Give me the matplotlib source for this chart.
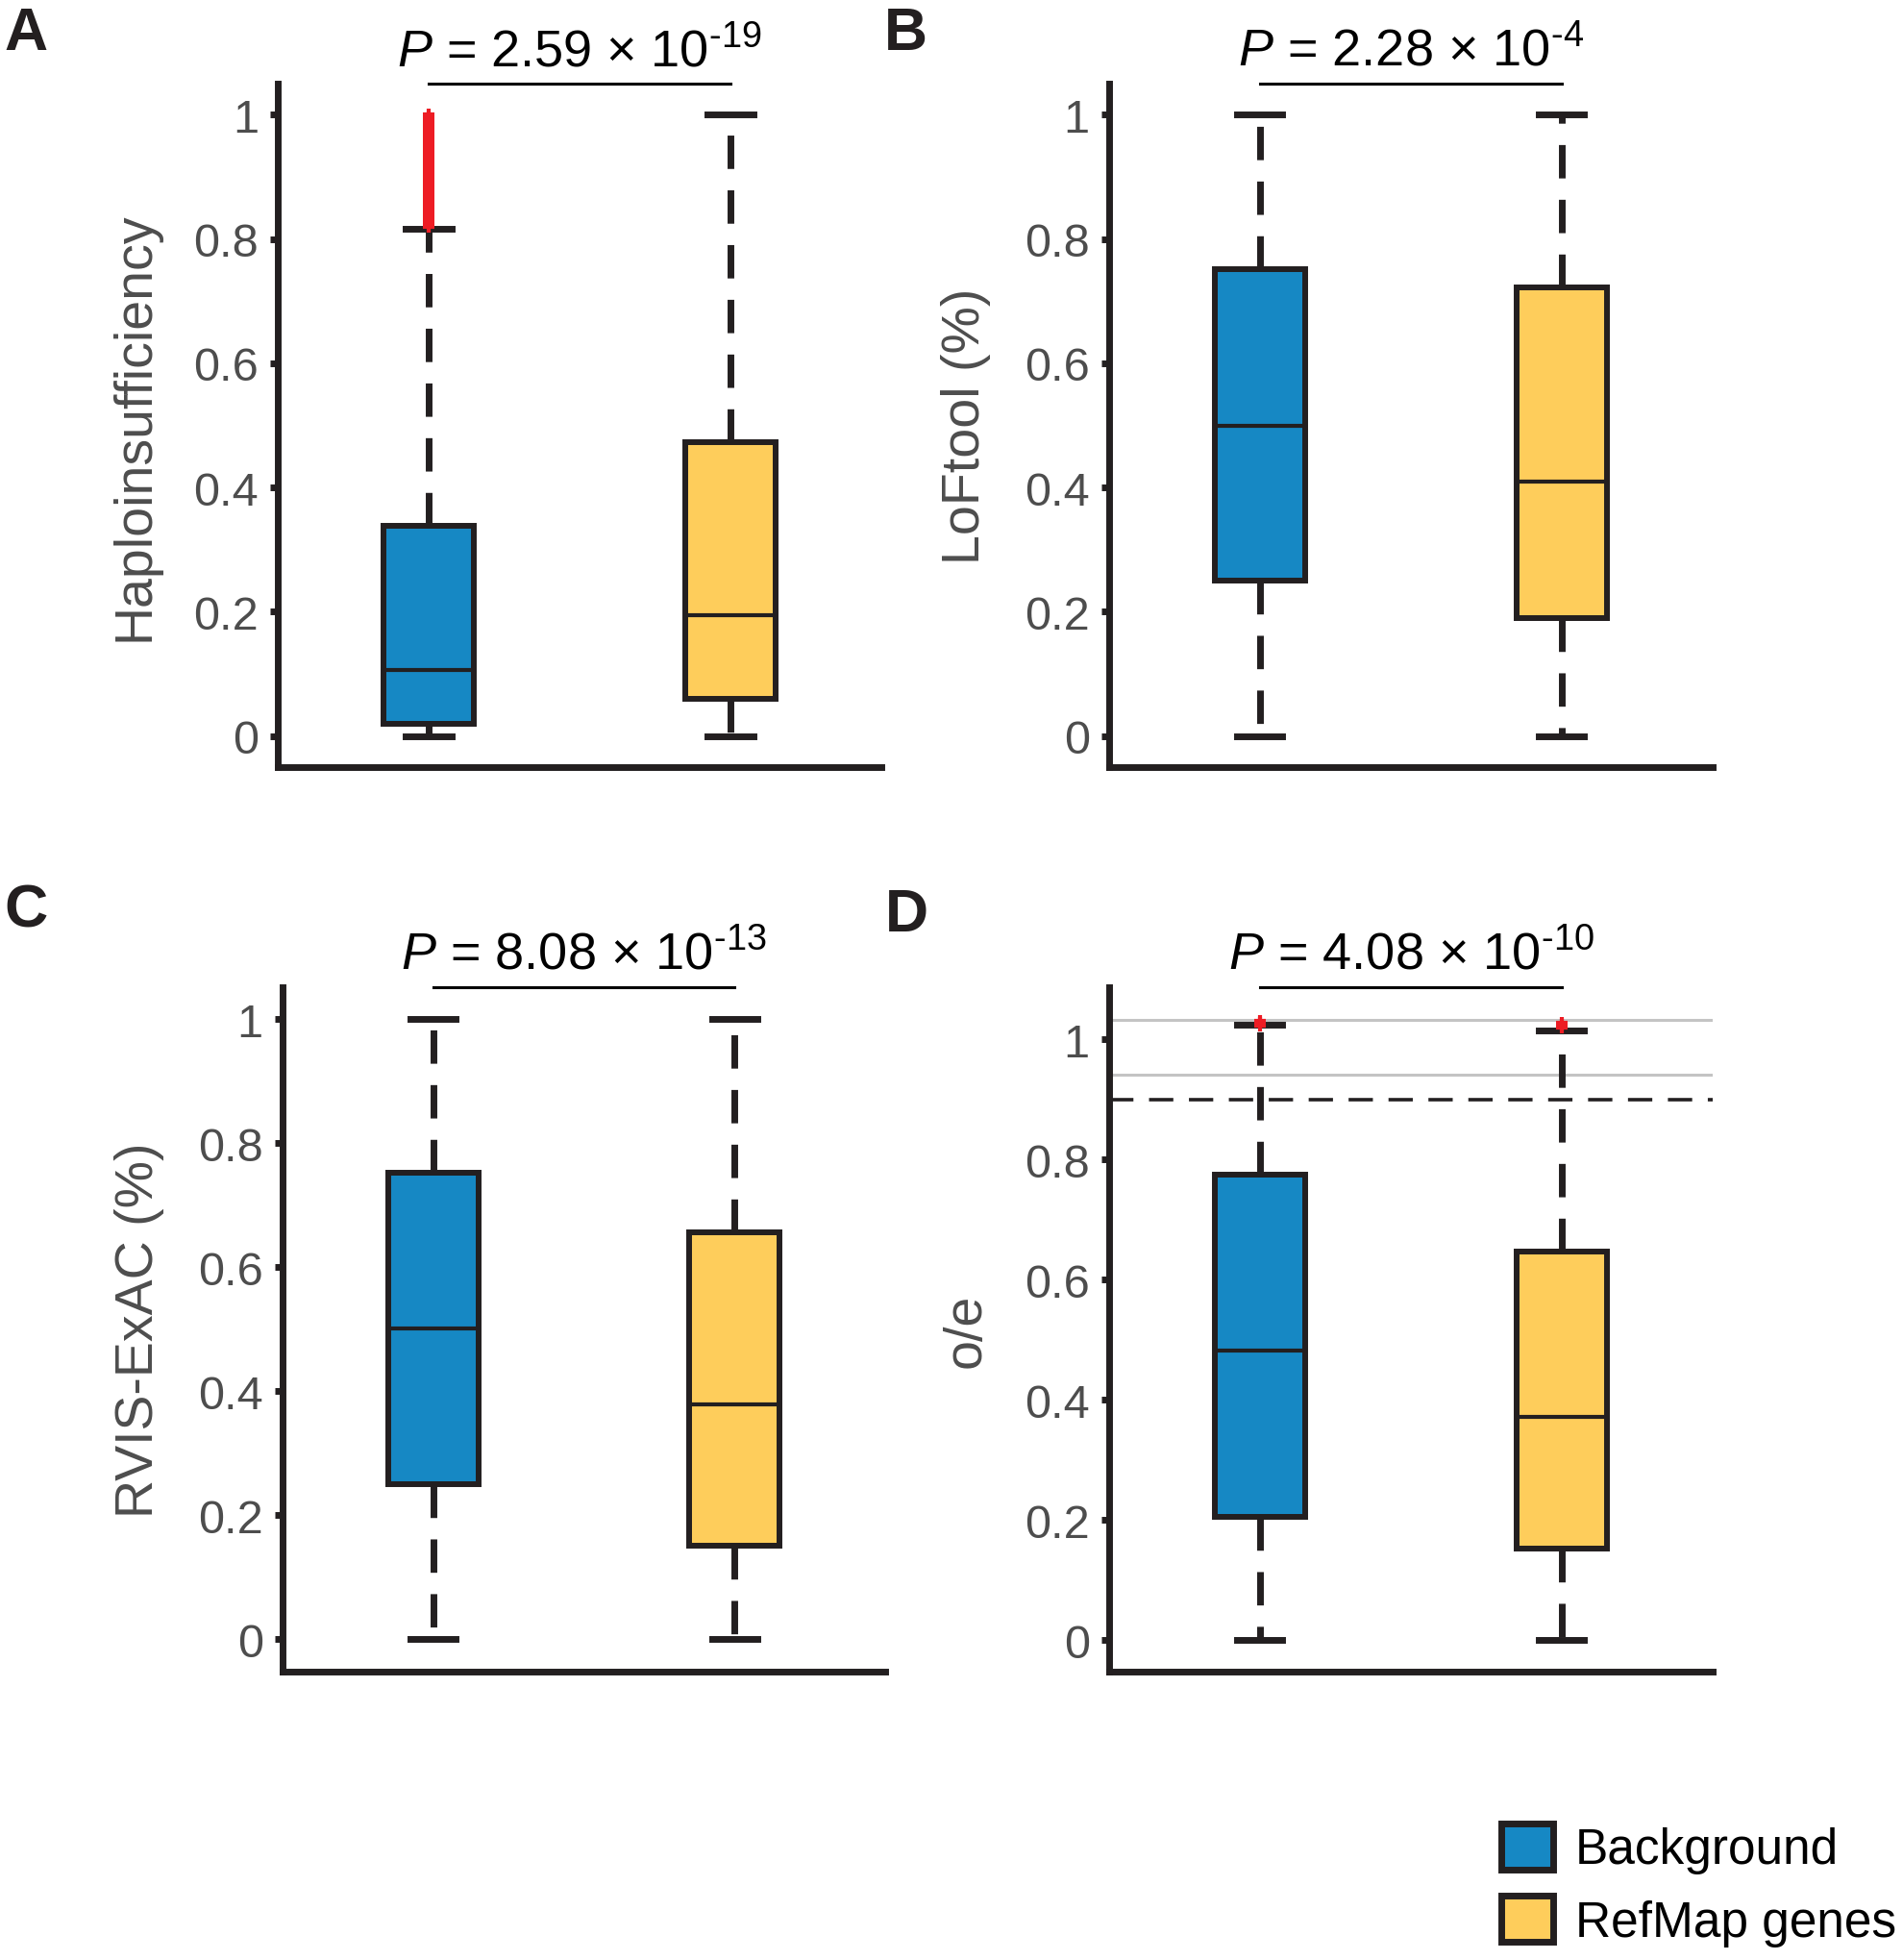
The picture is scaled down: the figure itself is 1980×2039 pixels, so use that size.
import matplotlib.pyplot as plt
import matplotlib.transforms as mtransforms
from matplotlib.patches import Patch

plt.rcParams['font.family'] = ['Liberation Sans', 'DejaVu Sans']
plt.rcParams['mathtext.fontset'] = 'custom'
plt.rcParams['mathtext.rm'] = 'Liberation Sans'
plt.rcParams['mathtext.it'] = 'Liberation Sans:italic'

groups = ['Background', 'RefMap genes']
colors = ['#1688c4', '#fecd5b']

# whisker low, q1, median, q3, whisker high
hap_bg = [0.0, 0.02, 0.107, 0.338, 0.817]
hap_ref = [0.0, 0.06, 0.195, 0.473, 1.0]
hap_bg_out = [0.820, 0.826, 0.831, 0.837, 0.842, 0.848, 0.853, 0.859, 0.864,
              0.870, 0.875, 0.881, 0.886, 0.892, 0.897, 0.903, 0.908, 0.914,
              0.919, 0.925, 0.930, 0.936, 0.941, 0.947, 0.952, 0.958, 0.963,
              0.969, 0.974, 0.980, 0.985, 0.991, 0.996, 1.000]
hap_ref_out = []

lof_bg = [0.0, 0.25, 0.50, 0.752, 1.0]
lof_ref = [0.0, 0.19, 0.41, 0.722, 1.0]

rvis_bg = [0.0, 0.25, 0.502, 0.752, 1.0]
rvis_ref = [0.0, 0.151, 0.379, 0.657, 1.0]

oe_bg = [0.0, 0.206, 0.482, 0.775, 1.024]
oe_ref = [0.0, 0.152, 0.372, 0.647, 1.015]
oe_bg_out = [1.023, 1.027, 1.031]
oe_ref_out = [1.020, 1.024, 1.028]
oe_grey = [1.032, 0.942]
oe_cut = 0.9

panels = ['A', 'B', 'C', 'D']
ylabels = ['Haploinsufficiency', 'LoFtool (%)', 'RVIS-ExAC (%)', 'o/e']
p_base = ['2.59', '2.28', '8.08', '4.08']
p_exp = ['\u201019', '\u20104', '\u201013', '\u201010']
stats = [(hap_bg, hap_ref, hap_bg_out, hap_ref_out),
         (lof_bg, lof_ref, [], []),
         (rvis_bg, rvis_ref, [], []),
         (oe_bg, oe_ref, oe_bg_out, oe_ref_out)]
ylims = [(-0.05, 1.05), (-0.05, 1.05), (-0.052, 1.052), (-0.052, 1.087)]
rects = [[0.1459, 0.6083, 0.317, 0.3485],
         [0.5825, 0.6083, 0.317, 0.3485],
         [0.1484, 0.1471, 0.3165, 0.349],
         [0.5825, 0.1471, 0.317, 0.349]]
letter_pos = [(0.002, 0.9745), (0.4644, 0.9745), (0.002, 0.527), (0.465, 0.525)]

dark = '#231f20'
grey_txt = '#4d4d4d'

fig = plt.figure(figsize=(19.81, 20.40), dpi=100)

for i in range(4):
    ax = fig.add_axes(rects[i])
    bg, ref, bg_out, ref_out = stats[i]
    bxp_stats = []
    for s, out, name in [(bg, bg_out, groups[0]), (ref, ref_out, groups[1])]:
        bxp_stats.append(dict(whislo=s[0], q1=s[1], med=s[2], q3=s[3],
                              whishi=s[4], fliers=out, label=name))

    if i == 3:
        for g in oe_grey:
            ax.axhline(g, color='#c4c4c4', lw=2.2, zorder=0)
        ax.axhline(oe_cut, color=dark, lw=2.6, ls=(0, (7, 4.5)), zorder=0)

    bp = ax.bxp(bxp_stats, positions=[1, 2], widths=0.30, capwidths=0.15,
                patch_artist=True, showfliers=True,
                boxprops=dict(edgecolor=dark, linewidth=4.3),
                medianprops=dict(color=dark, linewidth=3),
                whiskerprops=dict(color=dark, linewidth=5, linestyle=(0, (5, 3.2))),
                capprops=dict(color=dark, linewidth=5),
                flierprops=dict(marker='+', markeredgecolor='#ed1c24',
                                markersize=8, markeredgewidth=3, linestyle='none'))
    for patch, c in zip(bp['boxes'], colors):
        patch.set_facecolor(c)

    ax.set_xlim(0.5, 2.5)
    ax.set_ylim(*ylims[i])
    ax.set_yticks([0, 0.2, 0.4, 0.6, 0.8, 1])
    ax.set_yticklabels(['0', '0.2', '0.4', '0.6', '0.8', '1'])
    ax.set_xticks([])
    ax.tick_params(axis='y', length=5.5, width=5, color=dark, pad=9,
                   labelsize=35, labelcolor=grey_txt)
    for side in ['top', 'right']:
        ax.spines[side].set_visible(False)
    for side in ['left', 'bottom']:
        ax.spines[side].set_linewidth(5)
        ax.spines[side].set_color(dark)
        ax.spines[side].set_capstyle('projecting')
    ax.set_ylabel(ylabels[i], fontsize=40, color=grey_txt, labelpad=25)

    # significance bracket and P value
    trans = mtransforms.blended_transform_factory(ax.transData, ax.transAxes)
    ax.plot([1, 2], [1.0, 1.0], transform=trans, color='black', lw=2.2,
            clip_on=False)
    ax.annotate(r'$P$ = ' + p_base[i] + r' × 10$^{\mathrm{' + p_exp[i] + r'}}$',
                xy=(1.5, 1.0), xycoords=trans, xytext=(0, 14),
                textcoords='offset points', ha='center', va='baseline',
                fontsize=39, color='black', annotation_clip=False)

    fig.text(letter_pos[i][0], letter_pos[i][1], panels[i], fontsize=45,
             fontweight='bold', ha='left', va='baseline', color=dark)

handles = [Patch(facecolor=c, edgecolor=dark, linewidth=5) for c in colors]
fig.legend(handles, groups, loc='upper left',
           bbox_to_anchor=(1562 / 1981, 1 - 1898 / 2040), frameon=False,
           fontsize=37, handlelength=1.05, handleheight=1.05,
           handletextpad=0.45, labelspacing=0.45, borderpad=0,
           borderaxespad=0)

fig.savefig('out.png', dpi=100)
